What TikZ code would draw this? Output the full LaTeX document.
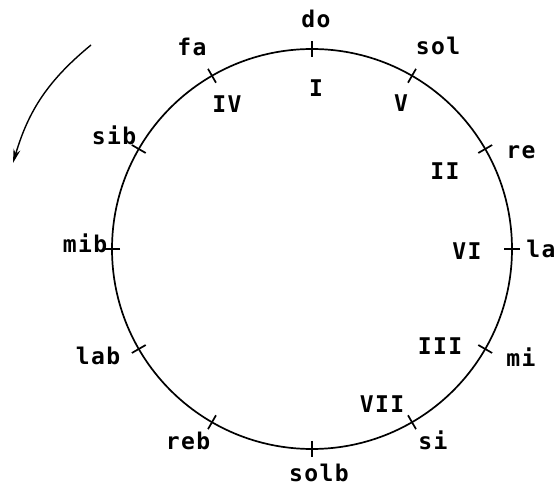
\documentclass[tikz,border=0pt]{standalone}
\usepackage{fontspec}
\newfontfamily\notefont[LetterSpace=6]{DejaVu Sans Mono Bold}
\usetikzlibrary{arrows.meta}
\tikzset{>=Stealth,every node/.style={font=\notefont\fontsize{23}{26}\selectfont,anchor=base,inner sep=0pt},ring/.style={line width=1.7pt},tickmark/.style={line width=1.7pt},turn/.style={line width=1.4pt,-{Stealth[length=14pt,width=7pt]}}}

\begin{document}
\begin{tikzpicture}[x=1pt,y=1pt]
\useasboundingbox (0,0) rectangle (558,488);
\coordinate (O) at (312,239);
\draw[ring] (O) circle (200);
\foreach \a in {0,30,...,330} \draw[tickmark,shift={(O)}] (\a:192)--(\a:208);
% notes, outside
\node (do) at (316,460){do};
\node (sol) at (438,433){sol};
\node (re) at (521,329){re};
\node (la) at (541,230){la};
\node (mi) at (521,121){mi};
\node (si) at (433,38){si};
\node (solb) at (319,6){solb};
\node (reb) at (188,38){reb};
\node (lab) at (98,123){lab};
\node (mib) at (85,235){mib};
\node (sib) at (114,343){sib};
\node (fa) at (192,432){fa};
% degrees, inside
\node (I) at (316,391){I};
\node (V) at (401,376){V};
\node (II) at (445,308){II};
\node (VI) at (467,228){VI};
\node (III) at (440,133){III};
\node (VII) at (382,75){VII};
\node (IV) at (227,375){IV};
% sense of rotation
\coordinate (from) at (91,443);
\coordinate (to) at (13,325);
\draw[turn] (from) to[bend right=17] (to);
\end{tikzpicture}
\end{document}
